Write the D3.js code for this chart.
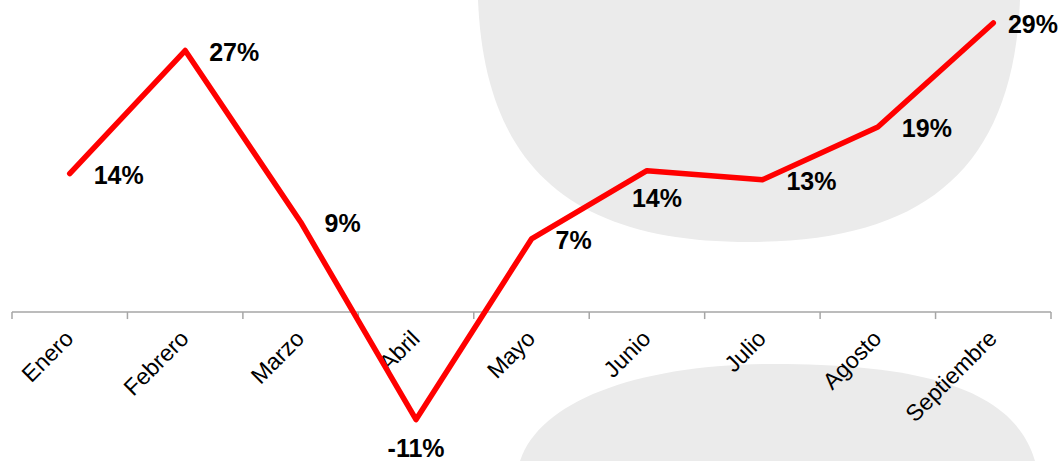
<!DOCTYPE html>
<html>
<head>
<meta charset="utf-8">
<script src="https://cdn.jsdelivr.net/npm/d3@7"></script>
<style>
  html, body { margin: 0; padding: 0; background: #ffffff; }
  svg { display: block; }
</style>
</head>
<body>
<svg id="chart" width="1060" height="461"></svg>
<script>
// ---- data ----
const months = ["Enero", "Febrero", "Marzo", "Abril", "Mayo", "Junio", "Julio", "Agosto", "Septiembre"];
const values = [14.3, 27.0, 9.3, -11.1, 7.55, 14.6, 13.65, 19.1, 29.85];
const valueLabels = ["14%", "27%", "9%", "-11%", "7%", "14%", "13%", "19%", "29%"];
const labelPlacement = ["right", "right", "right", "below", "right", "below", "right", "right", "right"];

// ---- layout ----
const W = 1060, H = 461;
const svg = d3.select("#chart");
const font = "'Liberation Sans', Arial, sans-serif";

// decorative background shapes
svg.append("path")
  .attr("d", "M478,0 C485,170 575,242 749,242 C923,242 1013,170 1020,0 Z")
  .attr("fill", "#ebebeb");
svg.append("path")
  .attr("d", "M520,461 C540,400 640,364 775,364 C930,364 1015,392 1035,461 Z")
  .attr("fill", "#ebebeb");

const x = d3.scaleBand().domain(months).range([12, 1051]).padding(0);
const y = d3.scaleLinear().domain([-12, 32]).range([428.3, 2.1]);

// category axis at zero
const axisY = y(0);
const axisG = svg.append("g").attr("transform", `translate(0,${axisY})`);
const axis = d3.axisBottom(x).tickSize(0).tickFormat("");
axisG.call(axis);
axisG.select(".domain").attr("stroke", "#a6a6a6").attr("stroke-width", 1.5).attr("d", `M${x.range()[0]},0H${x.range()[1]}`);
const boundaries = months.map(m => x(m)).concat([x.range()[1]]);
axisG.selectAll(".tickmark").data(boundaries).enter().append("line")
  .attr("class", "tickmark")
  .attr("x1", d => d).attr("x2", d => d)
  .attr("y1", 0).attr("y2", 7)
  .attr("stroke", "#a6a6a6").attr("stroke-width", 1.5);

// rotated month labels
svg.append("g").selectAll("text").data(months).enter().append("text")
  .attr("transform", d => `translate(${x(d) + x.bandwidth() / 2 + 5},${axisY + 28}) rotate(-45)`)
  .attr("text-anchor", "end")
  .attr("font-family", font)
  .attr("font-size", 23)
  .attr("fill", "#000")
  .text(d => d);

// line
const pts = months.map((m, i) => ({ m, v: values[i], lab: valueLabels[i], pos: labelPlacement[i] }));
const line = d3.line().x(d => x(d.m) + x.bandwidth() / 2).y(d => y(d.v));
svg.append("path")
  .datum(pts)
  .attr("d", line)
  .attr("fill", "none")
  .attr("stroke", "#ff0000")
  .attr("stroke-width", 5.5)
  .attr("stroke-linecap", "round")
  .attr("stroke-linejoin", "round");

// value labels
const lbls = svg.append("g").selectAll("text").data(pts).enter().append("text")
  .attr("font-family", font)
  .attr("font-size", 25)
  .attr("font-weight", "bold")
  .attr("fill", "#000")
  .text(d => d.lab);

lbls.each(function (d) {
  const t = d3.select(this);
  const px = x(d.m) + x.bandwidth() / 2;
  const py = y(d.v);
  const w = this.getComputedTextLength();
  if (d.pos === "below") {
    const shift = d.v < 0 ? 0 : 10;
    t.attr("text-anchor", "middle").attr("x", px + shift).attr("y", py + (d.v < 0 ? 37 : 36));
  } else {
    const lx = Math.min(px + 24, W - 2 - w);
    t.attr("text-anchor", "start").attr("x", lx).attr("y", py + 10);
  }
});
</script>
</body>
</html>
